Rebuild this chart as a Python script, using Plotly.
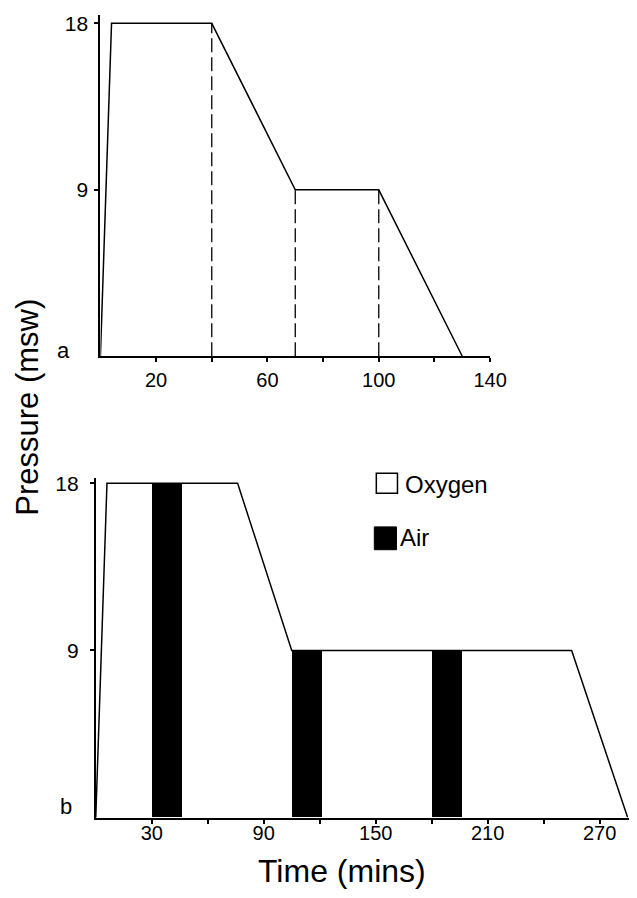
import plotly.graph_objects as go

# page/body offset and horizontal correction measured from previous renders
OFF = 8
SX = 0.967          # observed horizontal scale of the photographed page
W, H = 648, 882

# ---- data: panel a (treatment profile) ----
a_time = [0, 4, 40, 70, 100, 130]
a_depth = [0, 18, 18, 9, 9, 0]
a_marks_time = [40, 70, 100]          # dashed stage markers
a_marks_depth = [18, 9, 9]
a_xticks = [20, 40, 60, 80, 100, 120, 140]
a_xticktext = ["20", "", "60", "", "100", "", "140"]

# ---- data: panel b (treatment profile with air breaks) ----
b_time = [0, 6, 76, 105, 255, 285]
b_depth = [0, 18, 18, 9, 9, 0]
air_start = [30, 105, 180]
air_end = [46, 121, 196]
air_depth = [18, 9, 9]
b_xticks = [30, 60, 90, 120, 150, 180, 210, 240, 270]
b_xticktext = ["30", "", "90", "", "150", "", "210", "", "270"]

y_ticks = [9, 18]
y_ticktext = ["9", "18"]

FONT = "Liberation Sans, Arial, sans-serif"


def px(x):
    return ((x - 0.5) / SX - OFF) / W


def py(y):
    return min(1.0, 1 - (y - OFF) / H)


fig = go.Figure()

# panel a
for t, d in zip(a_marks_time, a_marks_depth):
    fig.add_trace(go.Scatter(x=[t, t], y=[0, d], mode="lines",
                             line=dict(color="black", width=1.3, dash="14px,5px"),
                             xaxis="x", yaxis="y", showlegend=False, hoverinfo="skip"))
fig.add_trace(go.Scatter(x=a_time, y=a_depth, mode="lines",
                         line=dict(color="black", width=1.5),
                         xaxis="x", yaxis="y", showlegend=False))

# panel b
air_mid = [(s + e) / 2 for s, e in zip(air_start, air_end)]
air_w = [e - s for s, e in zip(air_start, air_end)]
fig.add_trace(go.Bar(x=air_mid, y=air_depth, width=air_w, base=0,
                     marker=dict(color="black", line=dict(width=0)),
                     xaxis="x2", yaxis="y2", showlegend=False, name="Air"))
fig.add_trace(go.Scatter(x=b_time, y=b_depth, mode="lines",
                         line=dict(color="black", width=1.5),
                         xaxis="x2", yaxis="y2", showlegend=False))

axis_common = dict(showline=True, linecolor="black", linewidth=2, showgrid=False,
                   zeroline=False, ticks="outside", ticklen=4, tickwidth=1.5,
                   tickcolor="black")
xfont = dict(family=FONT, size=20, color="black")
yfont = dict(family=FONT, size=21, color="black")

fig.update_layout(
    width=W, height=H, autosize=False,
    margin=dict(l=0, r=0, t=0, b=0),
    paper_bgcolor="white", plot_bgcolor="white",
    showlegend=False, bargap=0,
    xaxis=dict(domain=[px(100), px(487)], range=[0, 140], anchor="y",
               tickvals=a_xticks, ticktext=a_xticktext, ticklabelstandoff=1,
               tickfont=xfont, **axis_common),
    yaxis=dict(domain=[py(352), py(8)], range=[0, 18.45], anchor="x",
               tickvals=y_ticks, ticktext=y_ticktext, ticklabelstandoff=2,
               tickfont=yfont, **axis_common),
    xaxis2=dict(domain=[px(95.4), px(631)], range=[0, 289], anchor="y2",
                tickvals=b_xticks, ticktext=b_xticktext, ticklabelstandoff=-8,
                tickfont=xfont, **axis_common),
    yaxis2=dict(domain=[py(817), py(475)], range=[0, 18.27], anchor="x2",
                tickvals=y_ticks, ticktext=y_ticktext, ticklabelstandoff=7,
                tickfont=yfont, **axis_common),
)

# legend swatches (paper coordinates)
fig.add_shape(type="rect", xref="paper", yref="paper",
              x0=px(374), x1=px(395), y0=py(490), y1=py(470),
              line=dict(color="black", width=1.5), fillcolor="white")
fig.add_shape(type="rect", xref="paper", yref="paper",
              x0=px(372), x1=px(394), y0=py(547), y1=py(524),
              line=dict(color="black", width=1), fillcolor="black")

ann = [
    dict(text="Oxygen", x=px(400), y=py(481), xanchor="left", size=24),
    dict(text="Air", x=px(396), y=py(535), xanchor="left", size=24),
    dict(text="a", x=px(63), y=py(346), xanchor="center", size=22),
    dict(text="b", x=px(66), y=py(806), xanchor="center", size=22),
    dict(text="Time (mins)", x=px(340), y=py(871), xanchor="center", size=32),
]
for a in ann:
    fig.add_annotation(text=a["text"], x=a["x"], y=a["y"], xref="paper", yref="paper",
                       xanchor=a["xanchor"], yanchor="middle", showarrow=False,
                       font=dict(family=FONT, size=a["size"], color="black"))
fig.add_annotation(text="Pressure (msw)", x=px(28), y=py(403), xref="paper", yref="paper",
                   xanchor="center", yanchor="middle", showarrow=False, textangle=-90,
                   font=dict(family=FONT, size=31, color="black"))

fig.write_html("out.html")
